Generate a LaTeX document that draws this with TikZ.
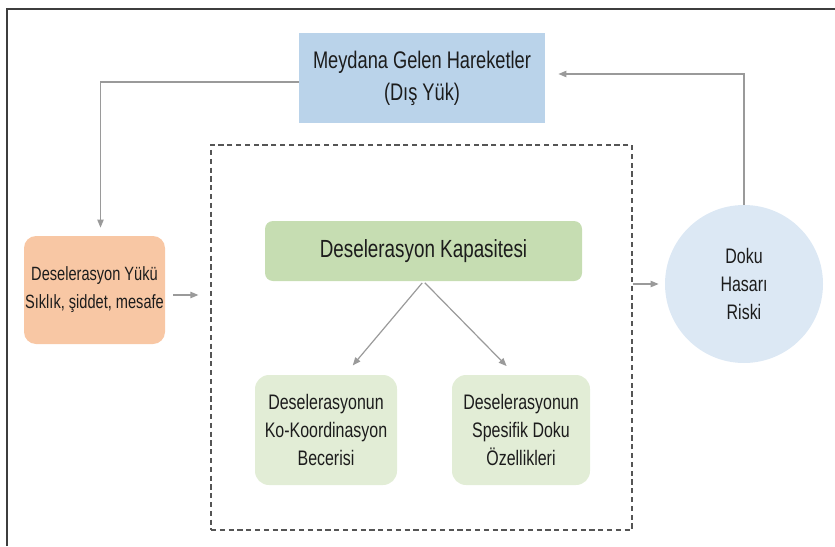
\documentclass[tikz,border=0pt]{standalone}
\usepackage{fontspec}
\setmainfont{Liberation Sans}[FakeStretch=0.76]
\usetikzlibrary{arrows.meta}

\definecolor{Blue}{HTML}{BAD3EA}
\definecolor{Green}{HTML}{C6DDB2}
\definecolor{LightGreen}{HTML}{E2EDD6}
\definecolor{Orange}{HTML}{F8C7A4}
\definecolor{Sky}{HTML}{DCE8F4}
\definecolor{LineGray}{HTML}{9A9A9A}
\definecolor{Ink}{HTML}{1C1C1C}

\tikzstyle{Box} = [rectangle,
                   align=center,
                   text=Ink,
                   inner sep=0pt,
                   font=\fontsize{10.5}{14}\selectfont]
\tikzstyle{Link} = [-{Triangle[length=4pt,width=3.2pt]},
                    draw=LineGray,
                    line width=0.6pt]

\begin{document}
\begin{tikzpicture}[x=0.5pt, y=-0.5pt]

    \useasboundingbox (0, 0) rectangle (835, 546);
    \draw [line width=1pt, draw=Ink!85] (7, 546) -- (7, 9) -- (835, 9);

    % Outer nodes
    \node (Moves) at (422, 78) [Box, fill=Blue, minimum width=123pt, minimum height=45pt,
        font=\fontsize{12}{16}\selectfont]{Meydana Gelen Hareketler \\ (Dış Yük)};
    \node (Load) at (94.5, 290) [Box, fill=Orange, rounded corners=6pt, minimum width=70.5pt,
        minimum height=54pt, font=\fontsize{9.6}{14}\selectfont]{Deselerasyon Yükü \\ Sıklık, şiddet, mesafe};
    \node (Risk) at (744, 284) [Box, circle, fill=Sky, minimum size=79pt]{Doku \\ Hasarı \\ Riski};

    % Capacity frame
    \node (Frame) at (421.5, 337.5) [draw=Ink!75, dash pattern=on 2.6pt off 1.8pt, line width=0.6pt,
        minimum width=210.5pt, minimum height=192.5pt]{};
    \node (Capacity) at (423.5, 251) [Box, fill=Green, rounded corners=4pt, minimum width=158.5pt,
        minimum height=30pt, font=\fontsize{12.4}{16}\selectfont]{Deselerasyon Kapasitesi};
    \node (Coord) at (326, 430) [Box, fill=LightGreen, rounded corners=7pt, minimum width=71pt,
        minimum height=55pt]{Deselerasyonun \\ Ko-Koordinasyon \\ Becerisi};
    \node (Tissue) at (521, 430) [Box, fill=LightGreen, rounded corners=7pt, minimum width=69pt,
        minimum height=55pt]{Deselerasyonun \\ Spesifik Doku \\ Özellikleri};

    % Lines
    \draw [Link, shorten >=4pt] ([yshift=-2pt]Moves.west) -| ([xshift=3pt]Load.north);
    \draw [Link, shorten <=4pt, shorten >=6pt] ([yshift=-2.5pt]Load.east) -- ([yshift=-2.5pt]Load.east -| Frame.west);
    \draw [Link, shorten >=3pt] (Risk.west -| Frame.east) -- (Risk.west);
    \draw [Link, shorten >=6.5pt] (Risk.north) |- ([yshift=2pt]Moves.east);

    \draw [Link, shorten <=1pt, shorten >=6pt] (Capacity.south) -- ([xshift=9.5pt]Coord.north);
    \draw [Link, shorten <=1pt, shorten >=6pt] (Capacity.south) -- ([xshift=-3pt]Tissue.north);

\end{tikzpicture}
\end{document}
